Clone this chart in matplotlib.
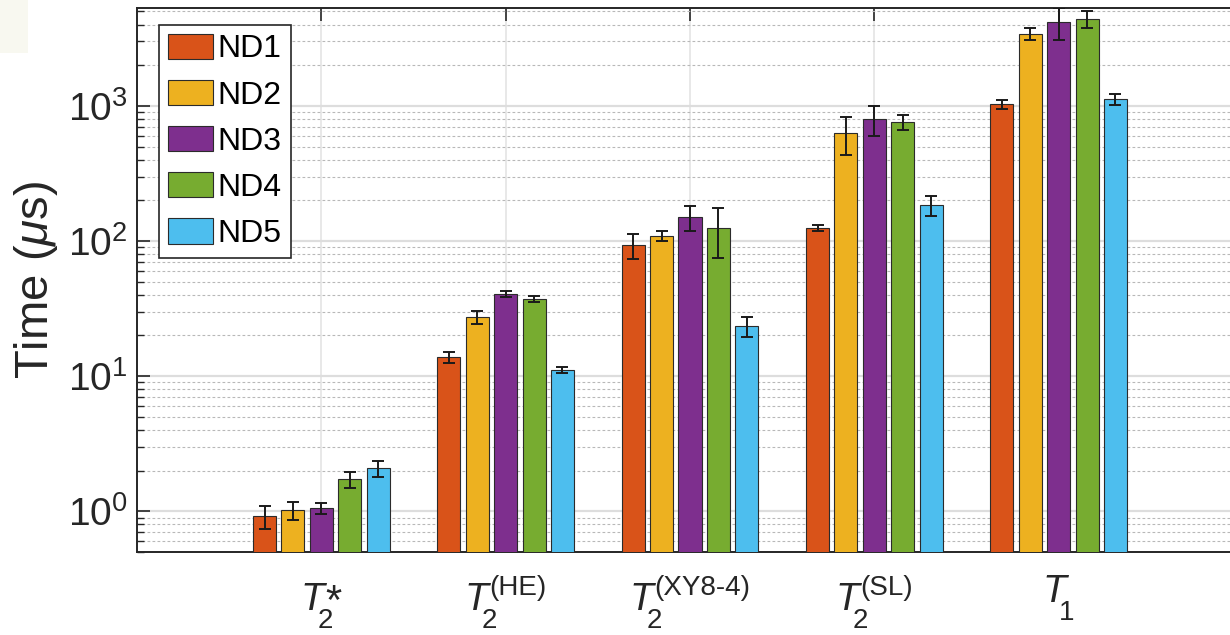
import numpy as np
import matplotlib as mpl
mpl.use('Agg')
import matplotlib.pyplot as plt
from matplotlib import rcParams
from matplotlib.ticker import LogLocator, LogFormatterMathtext, NullFormatter
from matplotlib.patches import Rectangle

rcParams['font.family'] = ['Liberation Sans', 'DejaVu Sans']
rcParams['mathtext.fontset'] = 'custom'
rcParams['mathtext.rm'] = 'Liberation Sans'
rcParams['mathtext.it'] = 'Liberation Sans:italic'
rcParams['mathtext.bf'] = 'Liberation Sans:bold'

# data
# category labels as (symbol, subscript, superscript)
categories = [('T', '2', '*'), ('T', '2', '(HE)'), ('T', '2', '(XY8-4)'),
              ('T', '2', '(SL)'), ('T', '1', '')]
series_names = ['ND1', 'ND2', 'ND3', 'ND4', 'ND5']

nd1 = [0.92, 13.8, 93, 125, 1030]
nd2 = [1.02, 27.3, 109, 630, 3400]
nd3 = [1.06, 40.5, 150, 800, 4200]
nd4 = [1.72, 37.3, 125, 760, 4400]
nd5 = [2.08, 11.1, 23.4, 184, 1120]

nd1_err = [0.18, 1.2, 20, 7, 75]
nd2_err = [0.16, 3.0, 9, 200, 350]
nd3_err = [0.10, 2.2, 31, 200, 1140]
nd4_err = [0.22, 2.2, 50, 100, 600]
nd5_err = [0.28, 0.5, 4, 32, 100]

values = [nd1, nd2, nd3, nd4, nd5]
errors = [nd1_err, nd2_err, nd3_err, nd4_err, nd5_err]
colors = ['#D95319', '#EDB120', '#7E2F8E', '#77AC30', '#4DBEEE']
text_color = '#262626'

W, H = 1230, 635
fig = plt.figure(figsize=(W / 100, H / 100), dpi=100)
# axes runs slightly past the right edge, like the cropped original
ax = fig.add_axes([137 / W, (H - 552) / H, (1243 - 137) / W, 544 / H])

# faint patch in the top-left corner of the original
fig.patches.append(Rectangle((0, 1 - 53 / H), 28 / W, 53 / H, transform=fig.transFigure,
                             facecolor='#f8f8f0', edgecolor='none', zorder=0))

ax.set_yscale('log')
x = np.arange(1, len(categories) + 1)
offset = 0.154
width = 0.125
for i in range(len(series_names)):
    ax.bar(x + (i - 2) * offset, values[i], width, yerr=errors[i], color=colors[i],
           edgecolor='#2b2b2b', linewidth=0.8, label=series_names[i], zorder=3,
           error_kw=dict(ecolor='#1a1a1a', elinewidth=1.4, capsize=4, capthick=1.4, zorder=4))

ax.set_xlim(0, 6)
ax.set_ylim(0.5, 5300)
ax.set_xticks(x)
ax.xaxis.set_major_formatter(NullFormatter())
ax.yaxis.set_major_locator(LogLocator(base=10))
ax.yaxis.set_major_formatter(LogFormatterMathtext())
ax.yaxis.set_minor_locator(LogLocator(base=10, subs=np.arange(2, 10)))
ax.yaxis.set_minor_formatter(NullFormatter())

# matlab-like grid
ax.set_axisbelow(True)
ax.grid(True, which='major', axis='y', color='#dddddd', linewidth=1.6, linestyle='-')
ax.grid(True, which='major', axis='x', color='#e2e2e2', linewidth=1.1, linestyle='-')
ax.grid(True, which='minor', axis='y', color='#b8b8b8', linewidth=0.8, linestyle=(0, (2.5, 2)))

for s in ax.spines.values():
    s.set_color(text_color)
    s.set_linewidth(1.4)

ax.tick_params(which='both', direction='in', top=True, right=True, color=text_color)
ax.tick_params(which='major', length=9.5, width=1.2, labelsize=28, labelcolor=text_color)
ax.tick_params(which='minor', length=5, width=1.0)
ax.tick_params(axis='y', which='major', pad=7)

ax.set_ylabel(r'Time ($\mu$s)', fontsize=34, color=text_color)
ax.yaxis.set_label_coords((60 - 137) / 1106, 0.5)

# x tick labels built as T with sub/superscripts (matlab tex layout)
renderer = fig.canvas.get_renderer()
for xi, (sym, sub, sup) in zip(x, categories):
    cx = ax.transData.transform((xi, 1))[0]
    base = 610 if sup else 602
    t_main = fig.text(0, 0, sym, fontsize=28, style='italic', color=text_color, va='baseline')
    t_sub = fig.text(0, 0, sub, fontsize=20, color=text_color, va='baseline')
    w_main = t_main.get_window_extent(renderer).width
    w_sub = t_sub.get_window_extent(renderer).width
    sub_dx = 0.7 * w_main
    total = sub_dx + w_sub
    t_sup = None
    if sup:
        if sup == '*':
            t_sup = fig.text(0, 0, sup, fontsize=30, color=text_color, va='baseline')
            sup_base = base + 4
        else:
            t_sup = fig.text(0, 0, sup, fontsize=20, color=text_color, va='baseline')
            sup_base = base - 15
        w_sup = t_sup.get_window_extent(renderer).width
        sup_dx = w_main + 1
        total = max(total, sup_dx + w_sup)
    left = cx - total / 2
    t_main.set_position((left / W, 1 - base / H))
    t_sub.set_position(((left + sub_dx) / W, 1 - (base + 18) / H))
    if t_sup is not None:
        t_sup.set_position(((left + sup_dx) / W, 1 - sup_base / H))

leg = ax.legend(loc='upper left', bbox_to_anchor=(22 / 1106, 1 - 17 / 544), borderaxespad=0,
                fontsize=23, handlelength=1.41, handleheight=0.85, handletextpad=0.16,
                labelspacing=0.48, borderpad=0.27, fancybox=False, framealpha=1)
leg.get_frame().set_edgecolor(text_color)
leg.get_frame().set_linewidth(1.2)
leg.set_zorder(10)

plt.savefig('out.png', dpi=100)
